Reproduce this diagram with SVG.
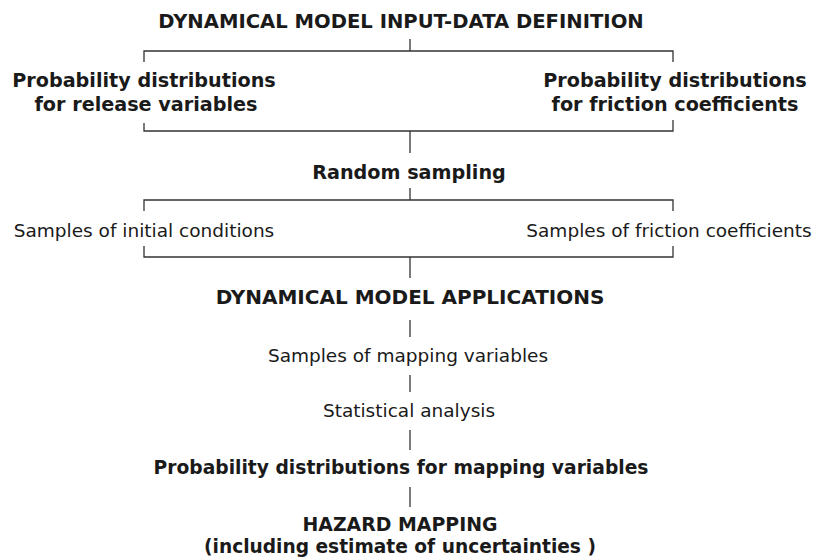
<svg xmlns="http://www.w3.org/2000/svg" width="820" height="558" viewBox="0 0 820 558">
<style>
text{font-family:"DejaVu Sans",Verdana,sans-serif;fill:#1a1a1a;text-anchor:middle;font-weight:bold;font-size:19.2px}
.r{font-weight:normal;font-size:18.5px}
.ln{stroke:#333;stroke-width:1.3;fill:none}
</style>
<rect width="820" height="558" fill="#fff"/>
<g id="n1"><text x="401" y="28" style="font-size:19.6px">DYNAMICAL MODEL INPUT-DATA DEFINITION</text></g>
<g id="n2"><text x="144" y="87">Probability distributions</text><text x="146" y="111">for release variables</text></g>
<g id="n3"><text x="675" y="87">Probability distributions</text><text x="675" y="111">for friction coefficients</text></g>
<g id="n4"><text x="409" y="179">Random sampling</text></g>
<g id="n5"><text class="r" x="144" y="237">Samples of initial conditions</text></g>
<g id="n6"><text class="r" x="669" y="237">Samples of friction coefficients</text></g>
<g id="n7"><text x="410" y="304" style="font-size:20px">DYNAMICAL MODEL APPLICATIONS</text></g>
<g id="n8"><text class="r" x="408" y="362">Samples of mapping variables</text></g>
<g id="n9"><text class="r" x="409" y="417">Statistical analysis</text></g>
<g id="n10"><text x="401" y="474" style="font-size:18.7px">Probability distributions for mapping variables</text></g>
<g id="n11"><text x="400" y="531" style="font-size:18.9px">HAZARD MAPPING</text><text x="400" y="553" style="font-size:18.6px">(including estimate of uncertainties )</text></g>
<g id="connectors" class="ln">
<path d="M410 39V51M144 62V51H673V62"/>
<path d="M144 123V131H673V120M410 131V153"/>
<path d="M410 188V200M144 211V200H673V211"/>
<path d="M144 246V257H673V246M410 257V278"/>
<path d="M410 320V337"/>
<path d="M410 375V392"/>
<path d="M410 430V450"/>
<path d="M410 487V507"/>
</g>
</svg>
